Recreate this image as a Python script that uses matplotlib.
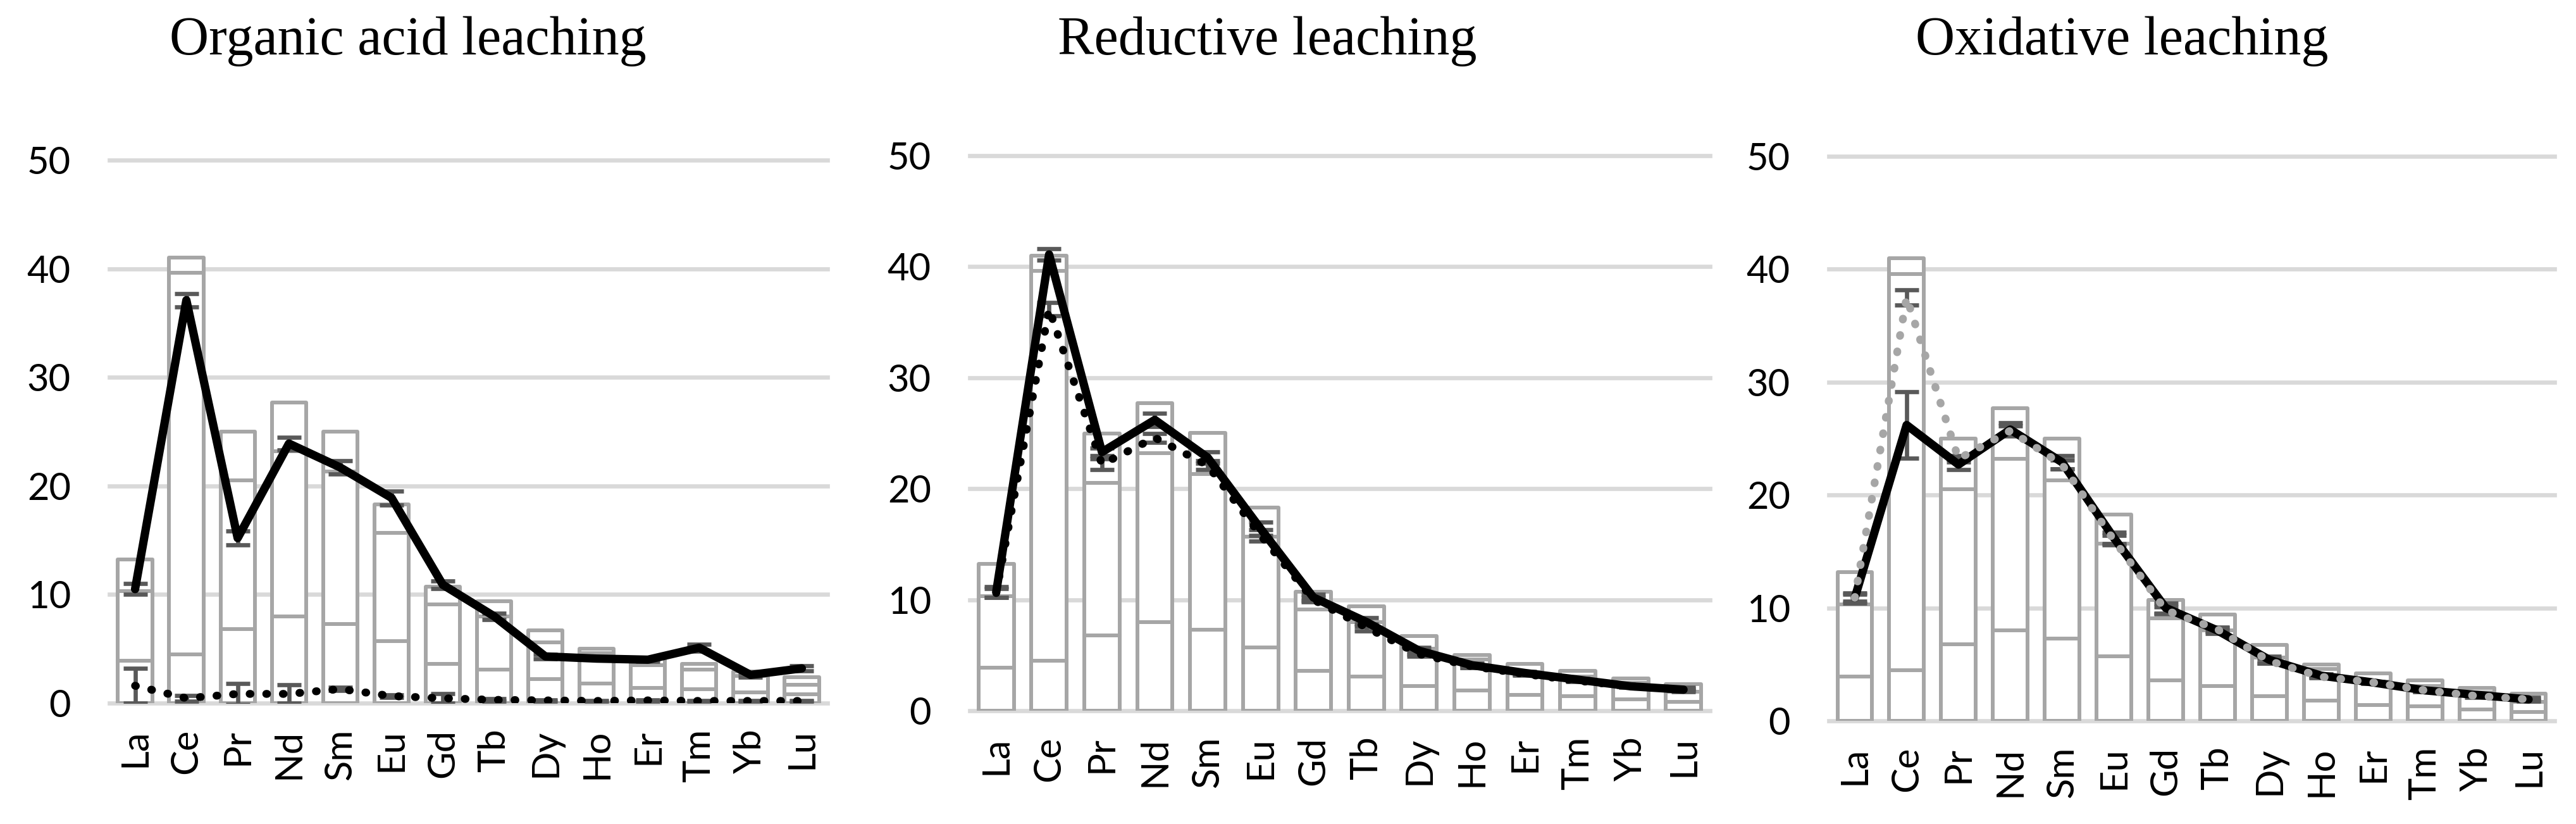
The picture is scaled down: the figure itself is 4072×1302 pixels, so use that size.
import numpy as np
import matplotlib
matplotlib.use("Agg")
import matplotlib.pyplot as plt

# REE categories
elements = ['La', 'Ce', 'Pr', 'Nd', 'Sm', 'Eu', 'Gd', 'Tb', 'Dy', 'Ho', 'Er', 'Tm', 'Yb', 'Lu']

# stacked reference bars (same in all three panels)
bar_low = [3.9, 4.5, 6.8, 8.0, 7.3, 5.7, 3.6, 3.1, 2.2, 1.8, 1.4, 1.3, 1.0, 0.8]
bar_mid = [6.4, 35.1, 13.7, 15.2, 14.0, 10.0, 5.5, 4.9, 3.4, 2.8, 2.1, 1.8, 1.5, 0.9]
bar_top = [2.9, 1.4, 4.5, 4.5, 3.7, 2.6, 1.6, 1.4, 1.1, 0.4, 0.7, 0.5, 0.4, 0.7]

# Organic acid leaching
organic_main = [10.5, 37.1, 15.2, 23.9, 21.7, 18.9, 10.9, 8.0, 4.3, 4.1, 4.0, 5.1, 2.6, 3.2]
organic_main_err = [0.5, 0.6, 0.65, 0.6, 0.6, 0.65, 0.35, 0.3, 0.2, 0.1, 0.15, 0.3, 0.2, 0.25]
organic_dot = [1.6, 0.45, 0.85, 0.85, 1.3, 0.65, 0.45, 0.3, 0.25, 0.2, 0.25, 0.2, 0.2, 0.2]
organic_dot_err = [1.6, 0.25, 0.95, 0.85, 0.15, 0.1, 0.45, 0.1, 0.05, 0.05, 0.05, 0.05, 0.05, 0.05]

# Reductive leaching
reductive_main = [10.7, 41.1, 23.3, 26.2, 22.8, 16.4, 10.2, 8.0, 5.4, 4.1, 3.4, 2.8, 2.2, 1.9]
reductive_main_err = [0.5, 0.5, 0.35, 0.6, 0.5, 0.6, 0.3, 0.4, 0.3, 0.2, 0.15, 0.1, 0.1, 0.2]
reductive_dot = [10.6, 36.2, 22.2, 24.6, 22.1, 15.8, 10.0, 7.5, 5.1, 4.0, 3.3, 2.7, 2.2, 1.9]
reductive_dot_err = [0.4, 0.6, 0.5, 0.4, 0.4, 0.5, 0.2, 0.3, 0.2, 0.1, 0.1, 0.1, 0.1, 0.1]

# Oxidative leaching
oxidative_main = [10.9, 26.2, 22.7, 25.8, 22.9, 16.2, 10.0, 8.0, 5.4, 4.0, 3.4, 2.7, 2.3, 1.9]
oxidative_main_err = [0.45, 2.95, 0.45, 0.6, 0.6, 0.5, 0.45, 0.25, 0.3, 0.15, 0.1, 0.1, 0.1, 0.15]
oxidative_dot = [10.9, 37.5, 23.2, 25.7, 22.7, 16.0, 9.8, 8.1, 5.3, 3.9, 3.4, 2.7, 2.2, 1.9]
oxidative_dot_err = [0.3, 0.7, 0.3, 0.4, 0.4, 0.4, 0.3, 0.2, 0.2, 0.1, 0.1, 0.1, 0.1, 0.1]

yticks = [0, 10, 20, 30, 40, 50]

W, H = 4073, 1302
DPI = 100

BAR_EDGE = '#A6A6A6'
GRID = '#D9D9D9'
ERR = '#595959'
TICK_FONT = 'Lato'
TITLE_FONT = 'Liberation Serif'

panels = [
    # title, main, main_err, dotted, dotted_err, dot colour, title centre x, axes px box
    ('Organic acid leaching', organic_main, organic_main_err, organic_dot, organic_dot_err,
     'black', 645, (173, 1308, 253, 1111)),
    ('Reductive leaching', reductive_main, reductive_main_err, reductive_dot, reductive_dot_err,
     'black', 2003, (1533, 2703, 246, 1123)),
    ('Oxidative leaching', oxidative_main, oxidative_main_err, oxidative_dot, oxidative_dot_err,
     '#A6A6A6', 3354, (2891, 4038, 247, 1139)),
]

fig = plt.figure(figsize=(W / DPI, H / DPI), dpi=DPI)

x = np.arange(len(elements))

for title, main, main_err, dot, dot_err, dot_color, tx, (x0, x1, y50, y0) in panels:
    ax = fig.add_axes([x0 / W, 1 - y0 / H, (x1 - x0) / W, (y0 - y50) / H])

    for v in yticks:
        ax.axhline(v, color=GRID, lw=4.8, zorder=0, clip_on=False)

    bottom = np.zeros(len(elements))
    for seg in (bar_low, bar_mid, bar_top):
        ax.bar(x, seg, bottom=bottom, width=0.67, facecolor='white', edgecolor=BAR_EDGE,
               linewidth=4.3, joinstyle='round', zorder=1)
        bottom += np.array(seg)

    ax.errorbar(x, main, yerr=main_err, fmt='none', ecolor=ERR, elinewidth=4.8,
                capsize=13.7, capthick=4.8, zorder=2)
    ax.errorbar(x, dot, yerr=dot_err, fmt='none', ecolor=ERR, elinewidth=4.8,
                capsize=13.7, capthick=4.8, zorder=2)

    ax.plot(x, main, color='black', lw=9.5, solid_joinstyle='round',
            solid_capstyle='round', zorder=3)
    ax.plot(x, dot, color=dot_color, lw=9, linestyle=(0, (0.1, 2.0)),
            dash_capstyle='round', zorder=4)

    ax.set_xlim(-0.5, len(elements) - 0.5)
    ax.set_ylim(0, 50)
    ax.set_yticks(yticks)
    ax.set_xticks(x)
    ax.set_xticklabels(elements, rotation=90, fontfamily=TICK_FONT, fontsize=43)
    ax.set_yticklabels([str(v) for v in yticks], fontfamily=TICK_FONT, fontsize=43)
    ax.tick_params(axis='y', length=0, pad=44)
    ax.tick_params(axis='x', length=0, pad=29)
    for s in ax.spines.values():
        s.set_visible(False)
    ax.patch.set_visible(False)

    fig.text(tx / W, 1 - 86 / H, title, ha='center', va='baseline',
             fontfamily=TITLE_FONT, fontsize=62)

fig.savefig('out.png', dpi=DPI)
